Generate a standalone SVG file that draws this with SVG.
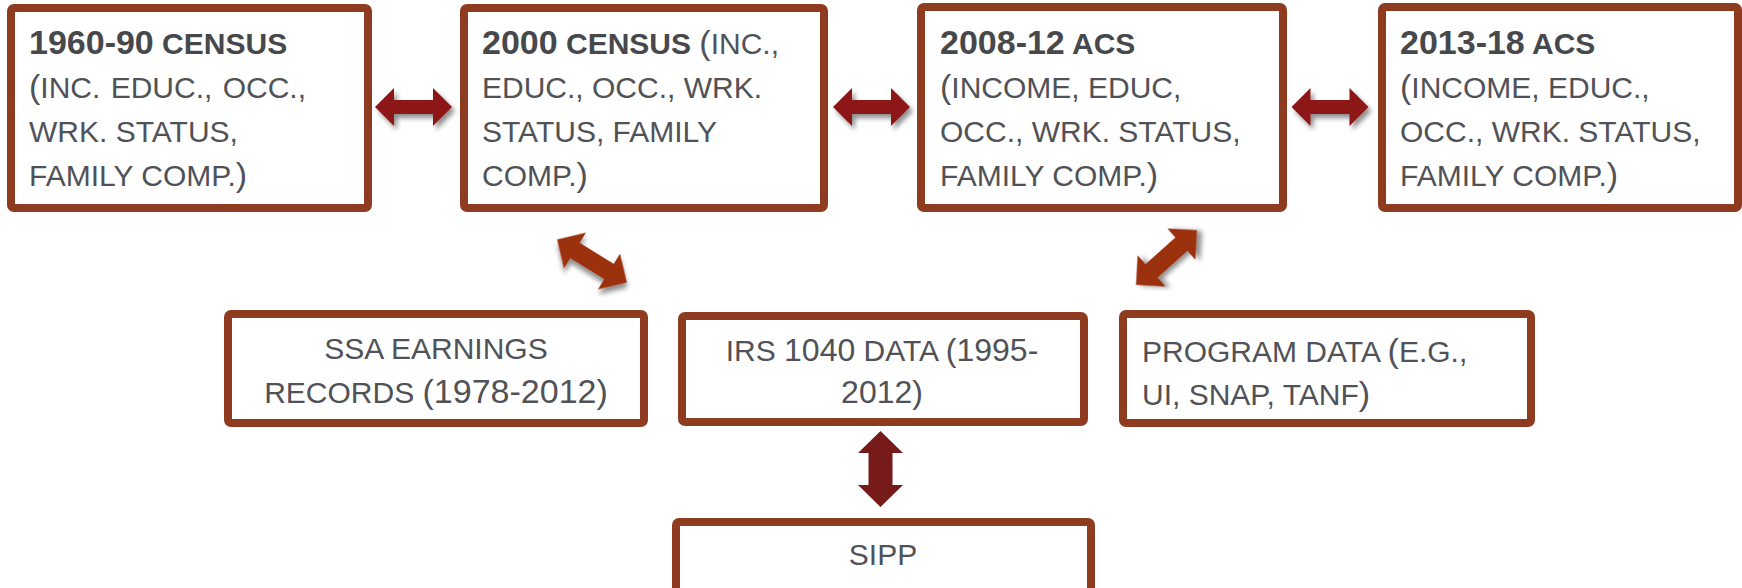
<svg xmlns="http://www.w3.org/2000/svg" width="1742" height="588" viewBox="0 0 1742 588">
<style>
.box{fill:#fff;stroke:#8E3B1F;stroke-width:8}
text{font-family:"Liberation Sans",Arial,sans-serif;font-size:30px;fill:#505257}
.big{font-size:34px}
.mid{font-size:32px}
.b{font-weight:bold;fill:#46484c}
.c{text-anchor:middle}
</style>
<defs>
<filter id="sh" x="-30%" y="-30%" width="160%" height="160%">
<feGaussianBlur in="SourceAlpha" stdDeviation="2.5"/>
<feOffset dx="3" dy="4" result="o"/>
<feComponentTransfer><feFuncA type="linear" slope="0.45"/></feComponentTransfer>
<feMerge><feMergeNode/><feMergeNode in="SourceGraphic"/></feMerge>
</filter>
<path id="harr" d="M-38.5,0 L-19.5,-19 L-19.5,-7 L19.5,-7 L19.5,-19 L38.5,0 L19.5,19 L19.5,7 L-19.5,7 L-19.5,19 Z"/>
<path id="darr" d="M-41,0 L-20,-21 L-20,-9 L20,-9 L20,-21 L41,0 L20,21 L20,9 L-20,9 L-20,21 Z"/>
</defs>
<g id="connectors">
<use href="#harr" transform="translate(413.5,107)" fill="#8D1616" filter="url(#sh)"/>
<use href="#harr" transform="translate(871.5,107)" fill="#8D1616" filter="url(#sh)"/>
<use href="#harr" transform="translate(1330,107)" fill="#8D1616" filter="url(#sh)"/>
<use href="#darr" transform="translate(592,261) rotate(31.7)" fill="#9C3311" filter="url(#sh)"/>
<use href="#darr" transform="translate(1166.5,257.5) rotate(-41.9)" fill="#9C3311" filter="url(#sh)"/>
<path d="M880.5,431 L903,453 L892.5,453 L892.5,485 L903,485 L880.5,507 L858,485 L868.5,485 L868.5,453 L858,453 Z" fill="#771A1A"/>
</g>
<g id="n1960">
<rect class="box" x="11" y="8" width="357" height="200" rx="3"/>
<text x="29" y="54"><tspan class="big b">1960-90</tspan><tspan class="b"> CENSUS</tspan></text>
<text x="29" y="98" word-spacing="2"><tspan class="big">(</tspan>INC. EDUC., OCC.,</text>
<text x="29" y="142">WRK. STATUS,</text>
<text x="29" y="186">FAMILY COMP.<tspan class="big">)</tspan></text>
</g>
<g id="n2000">
<rect class="box" x="464" y="8" width="360" height="200" rx="3"/>
<text x="482" y="54"><tspan class="big b">2000</tspan><tspan class="b"> CENSUS</tspan> <tspan class="big">(</tspan>INC.,</text>
<text x="482" y="98">EDUC., OCC., WRK.</text>
<text x="482" y="142">STATUS, FAMILY</text>
<text x="482" y="186">COMP.<tspan class="big">)</tspan></text>
</g>
<g id="n2008">
<rect class="box" x="921" y="7" width="362" height="201" rx="3"/>
<text x="940" y="54"><tspan class="big b">2008-12</tspan><tspan class="b"> ACS</tspan></text>
<text x="940" y="98"><tspan class="big">(</tspan>INCOME, EDUC,</text>
<text x="940" y="142">OCC., WRK. STATUS,</text>
<text x="940" y="186">FAMILY COMP.<tspan class="big">)</tspan></text>
</g>
<g id="n2013">
<rect class="box" x="1382" y="7" width="356" height="201" rx="3"/>
<text x="1400" y="54"><tspan class="big b">2013-18</tspan><tspan class="b"> ACS</tspan></text>
<text x="1400" y="98"><tspan class="big">(</tspan>INCOME, EDUC.,</text>
<text x="1400" y="142">OCC., WRK. STATUS,</text>
<text x="1400" y="186">FAMILY COMP.<tspan class="big">)</tspan></text>
</g>
<g id="nssa">
<rect class="box" x="228" y="314" width="416" height="109" rx="3"/>
<text class="c" x="436" y="359">SSA EARNINGS</text>
<text class="c" x="436" y="403">RECORDS <tspan class="big">(1978-2012)</tspan></text>
</g>
<g id="nirs">
<rect class="box" x="682" y="316" width="402" height="106" rx="3"/>
<text class="c" x="882" y="361">IRS <tspan class="mid">1040</tspan> DATA <tspan class="mid">(1995-</tspan></text>
<text class="c mid" x="882" y="403">2012)</text>
</g>
<g id="nprog">
<rect class="box" x="1123" y="314" width="408" height="109" rx="3"/>
<text x="1142" y="362">PROGRAM DATA <tspan class="big">(</tspan>E.G.,</text>
<text x="1142" y="405">UI, SNAP, TANF<tspan class="big">)</tspan></text>
</g>
<g id="nsipp">
<rect class="box" x="676" y="522" width="415" height="80" rx="3"/>
<text class="c" x="883" y="565">SIPP</text>
</g>
</svg>
